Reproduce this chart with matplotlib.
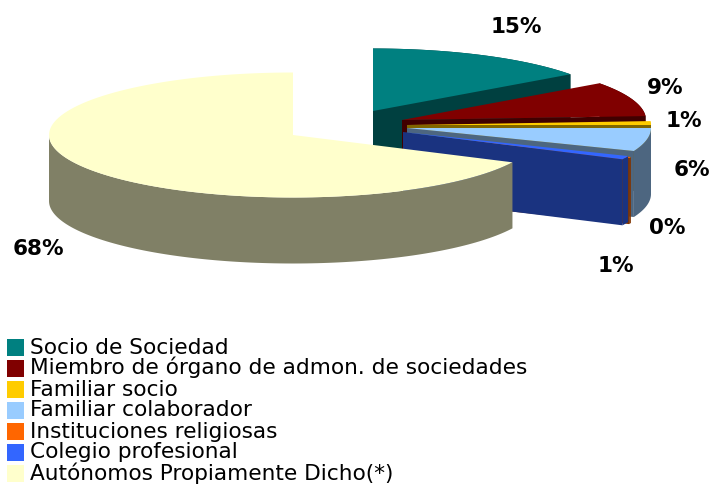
# 3D style exploded pie chart, drawn by hand on a pixel sized axes
import numpy as np
import matplotlib
matplotlib.use('Agg')
import matplotlib.pyplot as plt

# chart data
categories = ['Socio de Sociedad', 'Miembro de órgano de admon. de sociedades',
              'Familiar socio', 'Familiar colaborador', 'Instituciones religiosas',
              'Colegio profesional', 'Autónomos Propiamente Dicho(*)']
shares = [15.0, 9.0, 1.0, 6.0, 0.3, 0.9, 67.8]
colors = ['#008080', '#800000', '#FFCC00', '#99CCFF', '#FF6600', '#3366FF', '#FFFFCC']

# layout, in pixels of the picture
centers = [(373, 111), (402, 120), (407, 125), (407, 128), (404, 134), (403, 132), (293, 135)]
label_pos = [(516, 27), (665, 88), (684, 121), (692, 170), (667, 228), (616, 266), (38, 249)]
rx, ry, depth = 244, 62.5, 66


def arc(cx, cy, a0, a1):
    # angles in degrees, clockwise from 12 o'clock
    t = np.radians(np.linspace(a0, a1, 120))
    return cx + rx * np.sin(t), cy - ry * np.cos(t)


def shade(color):
    return tuple(c * 0.5 for c in matplotlib.colors.to_rgb(color))


fig = plt.figure(figsize=(7.09, 4.84), dpi=100)
ax = fig.add_axes([0, 0, 1, 1])
ax.set_xlim(0, 709)
ax.set_ylim(484, 0)
ax.axis('off')

ends = np.cumsum(shares) * 3.6
starts = np.concatenate(([0], ends[:-1]))

for i in range(len(shares)):
    cx, cy = centers[i]
    x, y = arc(cx, cy, starts[i], ends[i])
    dark = shade(colors[i])

    # outer wall, only the part that faces the viewer
    wx, wy = arc(cx, cy, starts[i], min(ends[i], 270))
    ax.fill(np.concatenate((wx, wx[::-1])), np.concatenate((wy, wy[::-1] + depth)),
            color=dark, lw=0)
    # cut face at the clockwise end of the slice
    if ends[i] < 180:
        ax.fill([cx, x[-1], x[-1], cx], [cy, y[-1], y[-1] + depth, cy + depth],
                color=dark, lw=0)
    # top of the slice
    ax.fill(np.concatenate(([cx], x)), np.concatenate(([cy], y)), color=colors[i], lw=0)

    lx, ly = label_pos[i]
    ax.text(lx, ly, '%d%%' % round(shares[i]), ha='center', va='center', fontsize=15.5,
            fontweight='bold', family='DejaVu Sans', color='black')

# legend
for i, name in enumerate(categories):
    ax.fill([7, 24, 24, 7], [339 + i * 21, 339 + i * 21, 356 + i * 21, 356 + i * 21],
            color=colors[i], lw=0)
    ax.text(30, 353.5 + i * 21, name, ha='left', va='baseline', fontsize=15.6,
            family='DejaVu Sans', color='black')

plt.savefig('out.png', dpi=100)
